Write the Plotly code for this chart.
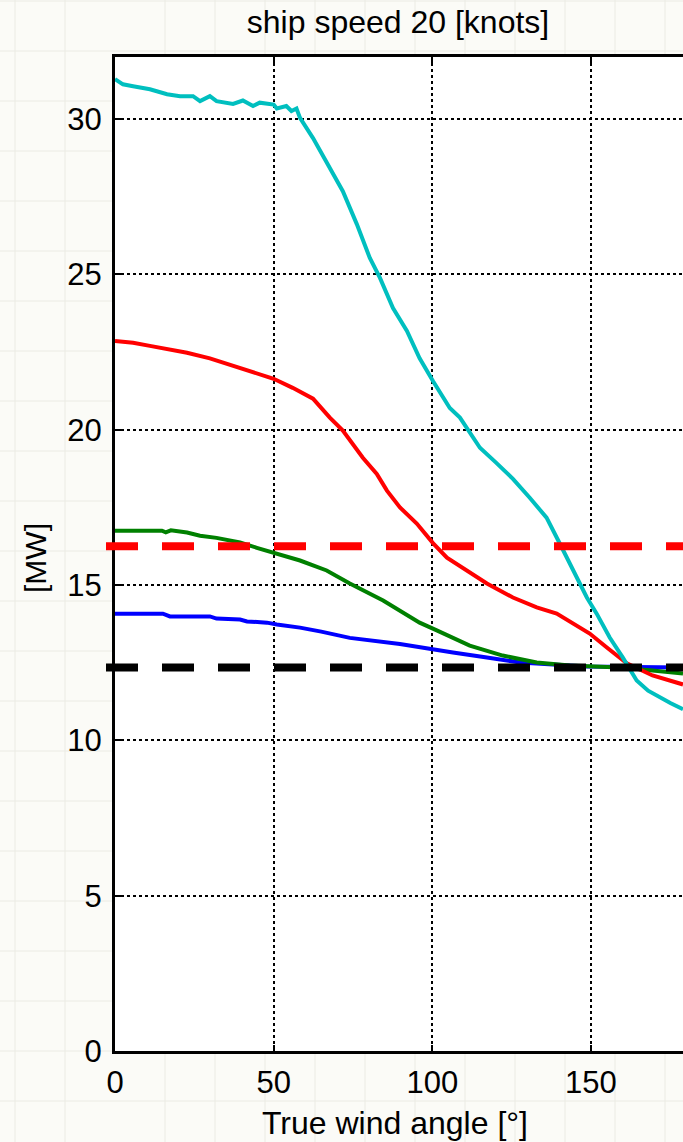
import plotly.graph_objects as go

# ---------------- data ----------------
cyan_x = [0, 2.5, 5.7, 11, 16.4, 20.5, 24.6, 26.8, 29.9, 32, 37.2, 40.3, 43.5, 45.6, 50, 51, 54, 55.6, 57.2,
          58.3, 62.4, 67.7, 71.8, 76.2, 80.3, 83.5, 87.6, 92, 96, 100.2, 105.5, 108.7, 115, 120, 125.4,
          130.7, 136, 140.2, 144.3, 148.7, 151.8, 155.9, 160, 164.4, 168, 171.7, 175, 179]
cyan_y = [31.29, 31.12, 31.06, 30.96, 30.8, 30.74, 30.74, 30.58, 30.74, 30.58, 30.49, 30.6, 30.42, 30.53,
          30.47, 30.34, 30.42, 30.26, 30.34, 30.04, 29.39, 28.42, 27.68, 26.62, 25.53, 24.89, 23.92, 23.18,
          22.3, 21.57, 20.7, 20.39, 19.42, 18.95, 18.42, 17.81, 17.17, 16.33, 15.47, 14.6, 14.08, 13.31,
          12.67, 11.93, 11.6, 11.38, 11.2, 11.0]

red_x = [0, 5.7, 11, 16.4, 22.7, 29.9, 37.2, 44.7, 50, 56, 62.4, 67.7, 71.8, 78.1, 82.5, 85.7, 89.8, 95.1,
         100.2, 104.6, 110.9, 117.2, 125.4, 132.9, 139.2, 144.3, 149.6, 155, 161.3, 169.4, 174, 179]
red_y = [22.86, 22.8, 22.7, 22.6, 22.48, 22.3, 22.06, 21.83, 21.64, 21.35, 21.0, 20.39, 19.97, 19.1, 18.58,
         18.04, 17.5, 16.98, 16.35, 15.88, 15.47, 15.05, 14.6, 14.28, 14.08, 13.76, 13.44, 12.99, 12.48,
         12.09, 11.95, 11.8]

green_x = [0, 14.8, 16, 17.6, 22.7, 26.8, 32, 39.4, 44.7, 50, 58.3, 66.7, 74, 84.5, 91, 96, 101.4, 111.8,
           122.2, 132.9, 143.3, 150, 159, 169.4, 179]
green_y = [16.75, 16.75, 16.7, 16.76, 16.69, 16.59, 16.52, 16.37, 16.2, 16.05, 15.79, 15.47, 15.05, 14.5,
           14.1, 13.79, 13.54, 13.05, 12.73, 12.51, 12.41, 12.38, 12.35, 12.25, 12.15]

blue_x = [0, 15.1, 17.3, 29.9, 32, 39.4, 41.6, 47.9, 51, 58.3, 65, 74, 89.8, 96, 106.5, 117.2, 127.6, 138,
          148.7, 179]
blue_y = [14.08, 14.08, 13.99, 13.99, 13.92, 13.89, 13.83, 13.79, 13.73, 13.63, 13.5, 13.3, 13.1, 12.99,
          12.83, 12.67, 12.51, 12.44, 12.38, 12.35]

ref_red = 16.25
ref_black = 12.35

x_ticks = [0, 50, 100, 150]
y_ticks = [0, 5, 10, 15, 20, 25, 30]

title_text = "ship speed 20 [knots]"
x_title = "True wind angle [°]"
y_title = "[MW]"

# ---------------- layout constants ----------------
W, H = 683, 1142
L, T, B, R = 115, 57, 91, 0
PW = W - L - R
PH = H - T - B
FONT = "Liberation Sans, Arial, Helvetica, sans-serif"


def px2paper_x(px):
    return (px - L) / PW


def px2paper_y(py):
    return (H - B - py) / PH


fig = go.Figure()
for xs, ys, col in [(blue_x, blue_y, "#0000FF"), (green_x, green_y, "#008000"),
                    (red_x, red_y, "#FF0000"), (cyan_x, cyan_y, "#00BFBF")]:
    fig.add_trace(go.Scatter(x=xs, y=ys, mode="lines", line=dict(color=col, width=4),
                             showlegend=False, hoverinfo="skip"))

shapes = []
# faint background graph-paper grid (outside the white plot area)
gcol = "#ebebe4"
for vx in range(15, W, 50):
    if vx < L:
        shapes.append(dict(type="line", xref="paper", yref="paper", x0=px2paper_x(vx), x1=px2paper_x(vx),
                           y0=px2paper_y(H), y1=px2paper_y(0), line=dict(color=gcol, width=1), layer="below"))
    elif vx > L + 2:
        for a, b in [(0, T), (H - B, H)]:
            shapes.append(dict(type="line", xref="paper", yref="paper", x0=px2paper_x(vx), x1=px2paper_x(vx),
                               y0=px2paper_y(b), y1=px2paper_y(a), line=dict(color=gcol, width=1), layer="below"))
for hy in range(1, H, 50):
    if hy < T or hy > H - B:
        x0, x1 = 0, W
    else:
        x0, x1 = 0, L
    shapes.append(dict(type="line", xref="paper", yref="paper", x0=px2paper_x(x0), x1=px2paper_x(x1),
                       y0=px2paper_y(hy), y1=px2paper_y(hy), line=dict(color=gcol, width=1), layer="below"))

# dashed reference levels
for val, col in [(ref_red, "#FF0000"), (ref_black, "#000000")]:
    shapes.append(dict(type="line", xref="paper", yref="y", x0=px2paper_x(106), x1=1.2, y0=val, y1=val,
                       line=dict(color=col, width=8, dash="32px,24px"), layer="above"))

axis_common = dict(showline=True, linecolor="black", linewidth=3, ticks="inside", ticklen=6,
                   tickwidth=2, tickcolor="black", showgrid=True, gridcolor="black", gridwidth=2,
                   griddash="dot", zeroline=False, tickfont=dict(family=FONT, size=31, color="black"))

fig.update_layout(
    width=W, height=H,
    margin=dict(l=L, r=R, t=T, b=B, pad=0),
    paper_bgcolor="#fbfbf7",
    plot_bgcolor="white",
    shapes=shapes,
    title=dict(text=title_text, x=398 / W, xref="container", xanchor="center",
               y=1 - 22 / H, yref="container", yanchor="middle",
               font=dict(family=FONT, size=32, color="black")),
    xaxis=dict(range=[0, 179], tickvals=x_ticks, mirror="ticks", ticklabelstandoff=2, **axis_common),
    yaxis=dict(range=[0, 32], tickvals=y_ticks, mirror=False, ticklabelstandoff=4, **axis_common),
    annotations=[
        dict(text=x_title, xref="paper", yref="paper", x=px2paper_x(395), y=px2paper_y(1123),
             xanchor="center", yanchor="middle", showarrow=False,
             font=dict(family=FONT, size=32, color="black")),
        dict(text=y_title, xref="paper", yref="paper", x=px2paper_x(35), y=px2paper_y(558),
             xanchor="center", yanchor="middle", showarrow=False, textangle=-90,
             font=dict(family=FONT, size=30, color="black")),
    ],
)

fig.write_html("out.html")
